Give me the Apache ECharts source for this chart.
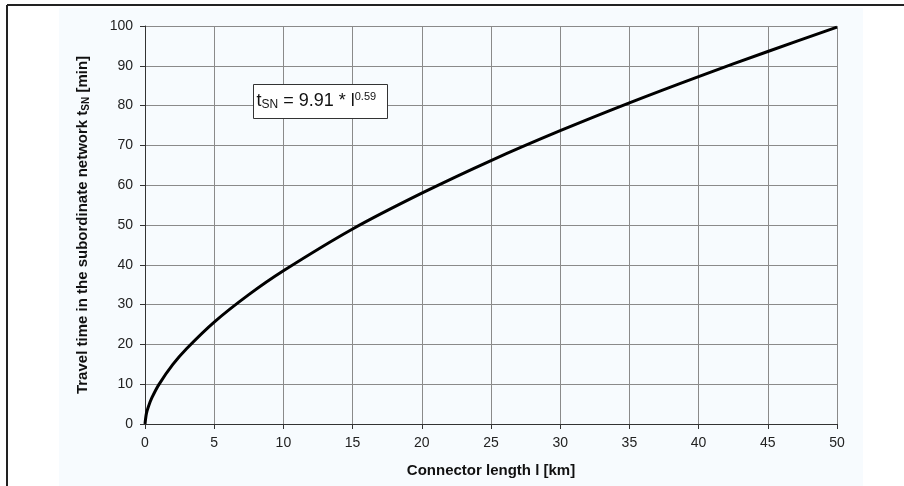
<!DOCTYPE html>
<html><head><meta charset="utf-8">
<script src="https://cdn.jsdelivr.net/npm/echarts@6/dist/echarts.min.js"></script>
<style>html,body{margin:0;padding:0;background:#fff}#c{width:904px;height:486px}</style>
</head><body><div id="c"></div>
<script>
// Values (connector length km -> travel time min)
const lengthKm = [0, 0.1, 0.25, 0.5, 1, 2, 3, 5, 7.5, 10, 15, 20, 25, 30, 35, 40, 45, 50];
const travelMin = [0, 2.6, 4.4, 6.6, 9.9, 14.9, 18.9, 25.6, 32.5, 38.5, 49.0, 58.0, 66.2, 73.7, 80.7, 87.3, 93.6, 99.7];
const xTicks = [0, 5, 10, 15, 20, 25, 30, 35, 40, 45, 50];
const yTicks = [0, 10, 20, 30, 40, 50, 60, 70, 80, 90, 100];

const font = 'Liberation Sans, Arial, sans-serif';

// Annotation pieces laid out sequentially using measured widths
const ctx = document.createElement('canvas').getContext('2d');
function w(txt, size) { ctx.font = size + 'px ' + font; return ctx.measureText(txt).width; }
const pieces = [
  {text: 't', size: 18, y: 17},
  {text: 'SN', size: 12, y: 20.5},
  {text: ' = 9.91 * l', size: 18, y: 17},
  {text: '0.59', size: 11, y: 12.5}
];
const annot = [{type: 'rect', z: 100, shape: {x: 0, y: 0, width: 134, height: 34}, style: {fill: '#ffffff', stroke: '#333', lineWidth: 1}}];
let cx = 3;
pieces.forEach(p => {
  annot.push({type: 'text', z: 101, x: cx, y: p.y, style: {text: p.text, fontFamily: font, fontSize: p.size, fill: '#111', verticalAlign: 'middle', align: 'left'}});
  cx += w(p.text, p.size);
});

const chart = echarts.init(document.getElementById('c'), null, {renderer: 'canvas'});
chart.setOption({
  animation: false,
  backgroundColor: '#ffffff',
  graphic: [
    {type: 'rect', z: -10, shape: {x: 59, y: 8, width: 804, height: 478}, style: {fill: '#f7fbfe'}, silent: true},
    {type: 'line', z: 100, shape: {x1: 7, y1: 5, x2: 904, y2: 5}, style: {stroke: '#222', lineWidth: 2}},
    {type: 'line', z: 100, shape: {x1: 7, y1: 5, x2: 7, y2: 486}, style: {stroke: '#222', lineWidth: 2}},
    {type: 'group', z: 100, left: 253, top: 84, children: annot}
  ],
  grid: {left: 145, right: 67, top: 26, bottom: 62, containLabel: false},
  xAxis: {
    type: 'value', min: 0, max: 50, interval: 5,
    name: 'Connector length l [km]', nameLocation: 'middle', nameGap: 39,
    nameTextStyle: {fontFamily: font, fontSize: 15, fontWeight: 'bold', color: '#111'},
    axisLine: {show: true, lineStyle: {color: '#333', width: 1}},
    axisTick: {show: true, length: 5, lineStyle: {color: '#333'}},
    axisLabel: {fontFamily: font, fontSize: 14, color: '#222', margin: 12,
      formatter: v => xTicks.includes(v) ? String(v) : ''},
    splitLine: {show: true, lineStyle: {color: '#8a8a8a', width: 1}}
  },
  yAxis: {
    type: 'value', min: 0, max: 100, interval: 10,
    name: 'Travel time in the subordinate network {t|t}{s|SN} [min]', nameLocation: 'middle', nameGap: 54,
    nameRotate: 90,
    nameTextStyle: {fontFamily: font, fontSize: 15, fontWeight: 'bold', color: '#111',
      rich: {
        t: {fontFamily: font, fontSize: 15, fontWeight: 'bold', color: '#111'},
        s: {fontFamily: font, fontSize: 10, fontWeight: 'bold', color: '#111', padding: [6, 0, 0, 0]}
      }},
    axisLine: {show: true, lineStyle: {color: '#333', width: 1}},
    axisTick: {show: true, length: 5, lineStyle: {color: '#333'}},
    axisLabel: {fontFamily: font, fontSize: 14, color: '#222', margin: 12,
      formatter: v => yTicks.includes(v) ? String(v) : ''},
    splitLine: {show: true, lineStyle: {color: '#8a8a8a', width: 1}}
  },
  series: [{
    type: 'line',
    data: lengthKm.map((x, i) => [x, travelMin[i]]),
    smooth: 0.3,
    showSymbol: false,
    lineStyle: {color: '#000', width: 3},
    z: 5
  }]
});
</script></body></html>
